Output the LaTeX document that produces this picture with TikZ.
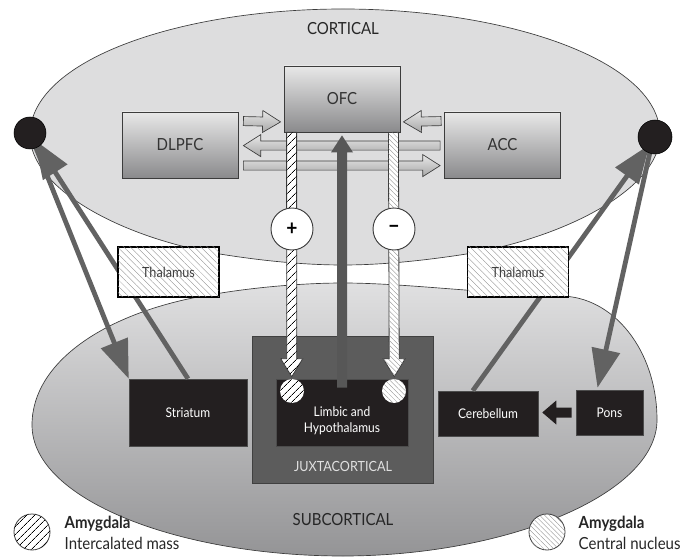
\documentclass[tikz,border=0pt]{standalone}
\usepackage{fontspec}
\setmainfont[FakeStretch=0.9]{Lato}
\usetikzlibrary{arrows.meta,calc,patterns.meta}

\definecolor{cortgray}{RGB}{221,221,222}
\definecolor{subtop}{RGB}{224,224,225}
\definecolor{subbot}{RGB}{148,148,150}
\definecolor{boxtop}{RGB}{232,232,232}
\definecolor{boxbot}{RGB}{138,138,140}
\definecolor{edgegray}{RGB}{60,60,60}
\definecolor{juxgray}{RGB}{92,92,92}
\definecolor{nearblack}{RGB}{35,31,32}
\definecolor{pathgray}{RGB}{98,98,98}
\definecolor{dotgray}{RGB}{140,140,140}

% block arrow: style, from, to, shaft half width, head half width, head length (pt)
\newcommand{\blockarrow}[6]{%
  \path[#1] let \p1=(#2), \p2=(#3),
    \n1={veclen(\x2-\x1,\y2-\y1)}, \n2={(\x2-\x1)/\n1}, \n3={(\y2-\y1)/\n1} in
    ({\x1-#4*\n3},{\y1+#4*\n2}) -- ({\x2-#6*\n2-#4*\n3},{\y2-#6*\n3+#4*\n2})
    -- ({\x2-#6*\n2-#5*\n3},{\y2-#6*\n3+#5*\n2}) -- (\x2,\y2)
    -- ({\x2-#6*\n2+#5*\n3},{\y2-#6*\n3-#5*\n2}) -- ({\x2-#6*\n2+#4*\n3},{\y2-#6*\n3-#4*\n2})
    -- ({\x1+#4*\n3},{\y1-#4*\n2}) -- cycle;}

\begin{document}
\begin{tikzpicture}[x=0.75pt,y=-0.75pt,
  region/.style={draw=edgegray,line width=0.5pt},
  regionlabel/.style={text=black!85,font=\fontsize{12.5}{14}\selectfont},
  cortbox/.style={draw=edgegray,line width=0.6pt,top color=boxtop,bottom color=boxbot,
    minimum width=87pt,minimum height=49.5pt,inner sep=0pt,text=black!80,font=\fontsize{12.5}{14}\selectfont},
  blackbox/.style={fill=nearblack,draw=black!70,line width=0.4pt,text=white,inner sep=0pt,
    font=\fontsize{10}{12}\selectfont},
  thalbox/.style={draw=black,line width=0.8pt,fill=white,
    postaction={pattern={Lines[angle=-45,distance=3.4pt,line width=0.25pt]},pattern color=dotgray},
    minimum width=75.75pt,minimum height=37.5pt,inner sep=0pt,text=black!75,font=\fontsize{10.5}{12}\selectfont},
  bigdot/.style={circle,fill=nearblack,draw=black,inner sep=0pt},
  signdot/.style={circle,fill=white,draw=edgegray,line width=0.7pt,minimum size=31.5pt,inner sep=0pt,
    font=\fontsize{16}{16}\bfseries\selectfont},
  stripes/.style={fill=white,postaction={pattern={Lines[angle=45,distance=4pt,line width=0.6pt]},pattern color=black}},
  dotlines/.style={fill=white,postaction={pattern={Lines[angle=-45,distance=2.6pt,line width=0.25pt]},pattern color=dotgray}},
  pathline/.style={draw=pathgray,line width=3.6pt,-{Triangle[length=29pt,width=21pt]}},
  grayarrow/.style={draw=edgegray,line width=0.5pt,top color=boxtop,bottom color=black!35},
  hatchbar/.style={draw=edgegray,line width=0.6pt,stripes},
  dotbar/.style={draw=edgegray,line width=0.6pt,dotlines},
  darkarrow/.style={fill=black!66},
  legendtext/.style={anchor=west,align=left,text=black!85,font=\fontsize{12.5}{16}\selectfont}]
\useasboundingbox (0,0) rectangle (681,559);

% Regions
\draw[region,top color=subtop,bottom color=subbot] (343,283) .. controls (300,283) and (250,288) .. (215,294) .. controls (110,310) and (32,360) .. (32,425) .. controls (32,500) and (180,556) .. (343,556) .. controls (505,556) and (657,495) .. (657,420) .. controls (657,350) and (613,296) .. (560,296) .. controls (470,292) and (400,283) .. (343,283) -- cycle;
\draw[region,fill=cortgray] (30,135) .. controls (30,60) and (180,9) .. (343,9) .. controls (505,9) and (660,60) .. (660,135) .. controls (660,190) and (560,240) .. (460,255) .. controls (420,261) and (380,265) .. (343,265) .. controls (305,265) and (265,261) .. (226,255) .. controls (126,240) and (30,190) .. (30,135) -- cycle;
\node[regionlabel] (cortlabel) at (343,29) {CORTICAL};
\node[regionlabel] (sublabel) at (343,520) {SUBCORTICAL};

% Subcortical boxes
\node[draw=black!75,fill=juxgray,line width=0.6pt,minimum width=135.75pt,minimum height=110.25pt,inner sep=0pt] (juxta) at (342.5,409.5) {};
\node[text=black!12,font=\fontsize{10.5}{12}\selectfont] (juxtalabel) at (343,466) {JUXTACORTICAL};
\node[blackbox,minimum width=99pt,minimum height=50.25pt] (limbic) at (342,412.5) {};
\node[blackbox,minimum width=88.5pt,minimum height=50.25pt] (striatum) at (188,412.5) {Striatum};
\node[blackbox,minimum width=75pt,minimum height=33.75pt] (cereb) at (488,413.5) {Cerebellum};
\node[blackbox,minimum width=50.25pt,minimum height=33.75pt] (pons) at (609.5,412.5) {Pons};
\blockarrow{fill=nearblack}{$(pons.west)+(-4,0)$}{$(cereb.east |- pons.west)+(4,0)$}{3.75}{9}{10.5}

% Loops through thalamus
\draw[pathline] (30,133) -- (striatum.north west);
\draw[pathline,shorten >=6pt] (striatum.north) -- (30,133);
\draw[pathline,shorten >=7pt] ($(cereb.north west)+(35,0)$) -- (655,137);
\draw[pathline] (652,143) -- ($(pons.north)+(-12,-2)$);
\node[thalbox] (thall) at (168.5,272) {Thalamus};
\node[thalbox] (thalr) at (518,272) {Thalamus};
\node[bigdot,minimum size=24pt] (ldot) at (30,133) {};
\node[bigdot,minimum size=25.5pt] (rdot) at (655,137) {};

% Cortical boxes
\node[cortbox] (ofc) at (342,99) {OFC};
\node[cortbox] (dlpfc) at (180,145) {DLPFC};
\node[cortbox] (acc) at (502.5,145) {ACC};
\blockarrow{grayarrow}{$(dlpfc.north east)+(5,9.5)$}{$(ofc.south west)+(-3,-10.5)$}{3.4}{8.25}{13.5}
\blockarrow{grayarrow}{$(acc.north west)+(-3,9.5)$}{$(ofc.south east)+(3,-10.5)$}{3.4}{8.25}{13.5}
\blockarrow{grayarrow}{$(acc.north west)+(-4,34)$}{$(dlpfc.north east)+(5,34)$}{3.4}{8.25}{13}
\blockarrow{grayarrow}{$(dlpfc.north east)+(5,54)$}{$(acc.north west)+(-4,54)$}{3.4}{8.25}{13}

% Cortical-subcortical pathways
\blockarrow{hatchbar}{$(ofc.south west)+(8,0)$}{$(limbic.north west)+(16,-2)$}{3.75}{8.25}{13.5}
\blockarrow{dotbar}{$(ofc.south east)+(-7,0)$}{$(limbic.north east)+(-14,-2)$}{3.75}{8.25}{13.5}
\blockarrow{darkarrow}{$(limbic.north)+(0,9)$}{$(ofc.south)+(0,3)$}{3.75}{8.25}{12.75}
\node[signdot] (plus) at (292,229) {+};
\node[signdot] (minus) at (394,229) {−};
\node[circle,stripes,minimum size=18pt,inner sep=0pt] (icm) at (292,391) {};
\node[circle,dotlines,minimum size=18pt,inner sep=0pt] (cn) at (394,391) {};
\node[text=white,align=center,font=\fontsize{10}{12}\selectfont] (limbiclabel) at (342,421) {Limbic and\\Hypothalamus};

% Legend
\node[circle,draw=edgegray,line width=0.6pt,stripes,minimum size=27pt,inner sep=0pt] (legicm) at (32,532) {};
\node[legendtext] (legicmtext) at (60,533) {\textbf{Amygdala}\\Intercalated mass};
\node[circle,draw=edgegray,line width=0.6pt,dotlines,minimum size=27pt,inner sep=0pt] (legcn) at (547,532) {};
\node[legendtext] (legcntext) at (574,533) {\textbf{Amygdala}\\Central nucleus};
\end{tikzpicture}
\end{document}
